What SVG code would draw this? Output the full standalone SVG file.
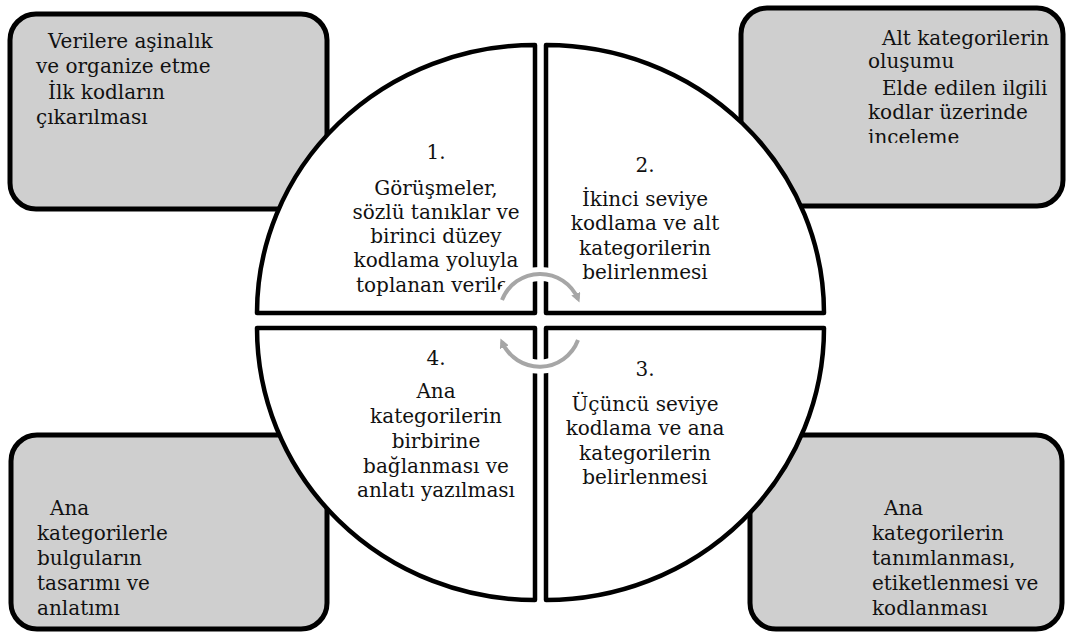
<svg xmlns="http://www.w3.org/2000/svg" width="1067" height="633" viewBox="0 0 1067 633">
<style>
.box{fill:#cfcfcf;stroke:#000;stroke-width:5}
.q{fill:#fff;stroke:#000;stroke-width:4.5;stroke-linejoin:round}
.t{font-family:"DejaVu Serif","Liberation Serif",serif;font-size:20px;fill:#111}
.c{text-anchor:middle}
.halo{fill:none;stroke:#fff;stroke-width:14}
.arc{fill:none;stroke:#a6a6a6;stroke-width:4}
</style>
<defs>
<marker id="ah" viewBox="0 0 10 10" refX="6" refY="5" markerWidth="2.4" markerHeight="2.4" orient="auto">
<path d="M0,0 L10,5 L0,10 z" fill="#a6a6a6"/>
</marker>
<clipPath id="trclip"><rect x="741" y="8" width="322" height="135"/></clipPath>
</defs>
<g id="box-tl">
<rect class="box" x="10" y="14" width="317" height="195" rx="26"/>
<text class="t"><tspan x="48" y="48">Verilere aşinalık</tspan><tspan x="36" y="73">ve organize etme</tspan><tspan x="48" y="99">İlk kodların</tspan><tspan x="36" y="124">çıkarılması</tspan></text>
</g>
<g id="box-tr">
<rect class="box" x="741" y="8" width="322" height="198" rx="26"/>
<text class="t" clip-path="url(#trclip)"><tspan x="882" y="45">Alt kategorilerin</tspan><tspan x="868" y="68">oluşumu</tspan><tspan x="882" y="95">Elde edilen ilgili</tspan><tspan x="868" y="119">kodlar üzerinde</tspan><tspan x="868" y="144">inceleme</tspan></text>
</g>
<g id="box-bl">
<rect class="box" x="11" y="435" width="316" height="194" rx="26"/>
<text class="t"><tspan x="50" y="515">Ana</tspan><tspan x="37" y="540">kategorilerle</tspan><tspan x="37" y="565">bulguların</tspan><tspan x="37" y="590">tasarımı ve</tspan><tspan x="37" y="615">anlatımı</tspan></text>
</g>
<g id="box-br">
<rect class="box" x="750" y="435" width="312" height="194" rx="26"/>
<text class="t"><tspan x="884" y="515">Ana</tspan><tspan x="872" y="540">kategorilerin</tspan><tspan x="872" y="565">tanımlanması,</tspan><tspan x="872" y="590">etiketlenmesi ve</tspan><tspan x="872" y="615">kodlanması</tspan></text>
</g>
<g id="q1">
<path class="q" d="M535 313 L257 313 A278 268 0 0 1 535 45 Z"/>
<text class="t c"><tspan x="436" y="159">1.</tspan><tspan x="436" y="195">Görüşmeler,</tspan><tspan x="436" y="219">sözlü tanıklar ve</tspan><tspan x="436" y="243">birinci düzey</tspan><tspan x="436" y="267">kodlama yoluyla</tspan></text>
<text class="t" x="356" y="292">toplanan verile</text>
</g>
<g id="q2">
<path class="q" d="M546 313 L546 45 A278 268 0 0 1 824 313 Z"/>
<text class="t c"><tspan x="645" y="172">2.</tspan><tspan x="645" y="206">İkinci seviye</tspan><tspan x="645" y="230">kodlama ve alt</tspan><tspan x="645" y="255">kategorilerin</tspan><tspan x="645" y="279">belirlenmesi</tspan></text>
</g>
<g id="q3">
<path class="q" d="M546 328 L824 328 A278 272 0 0 1 546 600 Z"/>
<text class="t c"><tspan x="645" y="376">3.</tspan><tspan x="645" y="411">Üçüncü seviye</tspan><tspan x="645" y="435">kodlama ve ana</tspan><tspan x="645" y="460">kategorilerin</tspan><tspan x="645" y="484">belirlenmesi</tspan></text>
</g>
<g id="q4">
<path class="q" d="M535 328 L535 600 A278 272 0 0 1 257 328 Z"/>
<text class="t c"><tspan x="436" y="365">4.</tspan><tspan x="436" y="398">Ana</tspan><tspan x="436" y="423">kategorilerin</tspan><tspan x="436" y="448">birbirine</tspan><tspan x="436" y="473">bağlanması ve</tspan><tspan x="436" y="497">anlatı yazılması</tspan></text>
</g>
<g id="connectors">
<path class="halo" d="M502 300 A41 41 0 0 1 578 299"/>
<path class="halo" d="M578 340 A41 41 0 0 1 502 342"/>
<path class="arc" d="M502 300 A41 41 0 0 1 578 299" marker-end="url(#ah)"/>
<path class="arc" d="M578 340 A41 41 0 0 1 502 342" marker-end="url(#ah)"/>
</g>
</svg>
